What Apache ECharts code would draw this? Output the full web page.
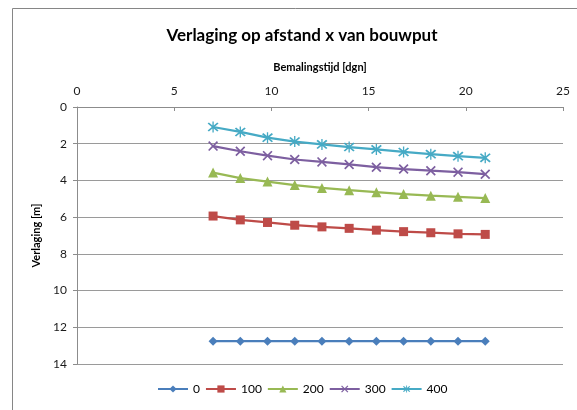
<!DOCTYPE html>
<html>
<head>
<meta charset="utf-8">
<script src="https://cdn.jsdelivr.net/npm/echarts@6/dist/echarts.min.js"></script>
<style>html,body{margin:0;padding:0;background:#fff;}#c{width:577px;height:410px;}</style>
</head>
<body>
<div id="c"></div>
<script>
const days = [7, 8.4, 9.8, 11.2, 12.6, 14, 15.4, 16.8, 18.2, 19.6, 21];
const seriesNames = ['0', '100', '200', '300', '400'];
const s0 = [12.76, 12.76, 12.76, 12.76, 12.76, 12.76, 12.76, 12.76, 12.76, 12.76, 12.76];
const s100 = [5.94, 6.15, 6.29, 6.44, 6.53, 6.61, 6.71, 6.79, 6.85, 6.91, 6.94];
const s200 = [3.57, 3.87, 4.06, 4.25, 4.41, 4.53, 4.64, 4.74, 4.83, 4.89, 4.96];
const s300 = [2.13, 2.41, 2.65, 2.86, 2.99, 3.13, 3.28, 3.38, 3.47, 3.55, 3.66];
const s400 = [1.09, 1.36, 1.67, 1.88, 2.04, 2.18, 2.31, 2.45, 2.57, 2.68, 2.77];
const values = [s0, s100, s200, s300, s400];

const colors = ['#4a7ebb', '#be4b48', '#98b954', '#7d5fa0', '#46aac5'];
const crossPath = 'path://M0,1.2L1.2,0L5,3.8L8.8,0L10,1.2L6.2,5L10,8.8L8.8,10L5,6.2L1.2,10L0,8.8L3.8,5Z';
const starPath = 'path://M0,1.2L1.2,0L5,3.8L8.8,0L10,1.2L6.2,5L10,8.8L8.8,10L5,6.2L1.2,10L0,8.8L3.8,5Z M4.4,-1L5.6,-1L5.6,11L4.4,11Z';
const symbols = ['diamond', 'rect', 'triangle', crossPath, starPath];
const sizes = [9, 9, 10, 10, 11];

const font = 'Lato, "Liberation Sans", sans-serif';
const chart = echarts.init(document.getElementById('c'), null, {renderer: 'canvas'});
chart.setOption({
  animation: false,
  textStyle: {fontFamily: font},
  graphic: [{
    type: 'rect', shape: {x: 12.5, y: 8.5, width: 700, height: 500},
    style: {fill: 'none', stroke: '#868686', lineWidth: 1}, silent: true
  }],
  title: {
    text: 'Verlaging op afstand x van bouwput', left: 297, top: 22, textAlign: 'center',
    textStyle: {fontFamily: font, fontSize: 17, fontWeight: 'bold', color: '#000'}
  },
  grid: {left: 77, right: 14, top: 107, bottom: 46, containLabel: false},
  legend: {
    bottom: 10, left: 152, itemWidth: 30, itemHeight: 9, itemGap: 5,
    data: seriesNames,
    textStyle: {fontFamily: font, fontSize: 12, color: '#000'}
  },
  xAxis: {
    type: 'value', position: 'top', min: 0, max: 25, interval: 5,
    name: 'Bemalingstijd [dgn]', nameLocation: 'middle', nameGap: 34,
    nameTextStyle: {fontFamily: font, fontSize: 11, fontWeight: 'bold', color: '#000'},
    axisLine: {show: true, lineStyle: {color: '#8c8c8c', width: 1}},
    axisTick: {show: true, inside: true, length: 4, lineStyle: {color: '#8c8c8c'}},
    axisLabel: {fontFamily: font, fontSize: 12, color: '#1a1a1a', margin: 10},
    splitLine: {show: false}
  },
  yAxis: {
    type: 'value', inverse: true, min: 0, max: 14, interval: 2,
    name: 'Verlaging [m]', nameLocation: 'middle', nameGap: 34, nameRotate: 90,
    nameTextStyle: {fontFamily: font, fontSize: 11, fontWeight: 'bold', color: '#000'},
    axisLine: {show: true, lineStyle: {color: '#8c8c8c', width: 1}},
    axisTick: {show: true, length: 4, lineStyle: {color: '#8c8c8c'}},
    axisLabel: {fontFamily: font, fontSize: 12, color: '#1a1a1a', margin: 10},
    splitLine: {show: true, lineStyle: {color: '#9a9a9a', width: 1}}
  },
  series: seriesNames.map((n, i) => ({
    name: n, type: 'line',
    data: days.map((d, j) => [d, values[i][j]]),
    symbol: symbols[i], symbolSize: sizes[i], showAllSymbol: true,
    lineStyle: {color: colors[i], width: 2.25},
    itemStyle: {color: colors[i]},
    emphasis: {disabled: true}
  }))
});
</script>
</body>
</html>
